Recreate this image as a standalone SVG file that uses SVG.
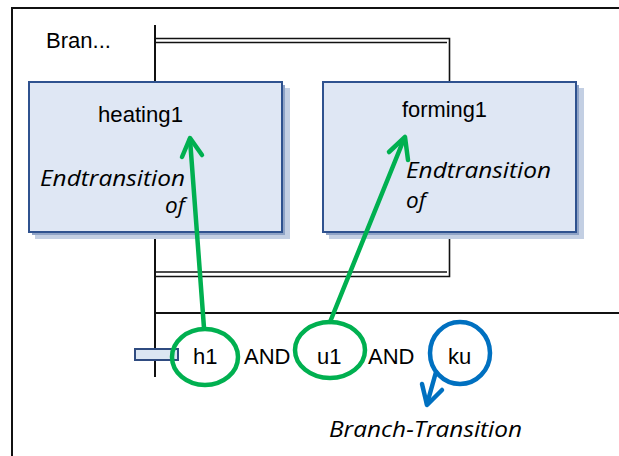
<svg xmlns="http://www.w3.org/2000/svg" width="619" height="456" viewBox="0 0 619 456">
<style>
.ln{stroke:#111;stroke-width:2;fill:none}
.ln2{stroke:#111;stroke-width:1.6;fill:none}
.box{fill:#dfe7f4;stroke:#2f528f;stroke-width:2}
.sh1{fill:#8fa3c6}
.sh2{fill:#c3cfe3}
.t{font-family:"Liberation Sans",Arial,sans-serif;fill:#000;font-size:22px}
.it{font-family:"Open Sans","Liberation Sans",sans-serif;font-style:italic;fill:#000;font-size:22.5px}
.g{stroke:#00b050;stroke-width:4.5;fill:none;stroke-linecap:round;stroke-linejoin:round}
.b{stroke:#0070c0;stroke-width:4.5;fill:none;stroke-linecap:round;stroke-linejoin:round}
</style>
<rect width="619" height="456" fill="#fff"/>
<g id="frame">
<path class="ln" d="M12,456 V8 H619"/>
<text class="t" x="46" y="48" textLength="65" lengthAdjust="spacingAndGlyphs">Bran...</text>
</g>
<g id="connectors">
<path class="ln" d="M155,25 V377"/>
<path class="ln2" d="M155,38.5 H449.5 V82"/>
<path class="ln2" d="M155,42.5 H447"/>
<path class="ln2" d="M449.5,231 V276.5 H155"/>
<path class="ln2" d="M155,272 H447"/>
<path class="ln" d="M155,313 H619"/>
</g>
<g id="heating1">
<rect class="sh2" x="35" y="88" width="255" height="151"/>
<rect class="sh1" x="32" y="85" width="253" height="150"/>
<rect class="box" x="29" y="82" width="253" height="150"/>
<text class="t" x="98" y="122" textLength="85" lengthAdjust="spacingAndGlyphs">heating1</text>
<text class="it" x="40" y="186" textLength="145" lengthAdjust="spacingAndGlyphs">Endtransition</text>
<text class="it" x="165" y="213">of</text>
</g>
<g id="forming1">
<rect class="sh2" x="329" y="88" width="255" height="151"/>
<rect class="sh1" x="326" y="85" width="253" height="150"/>
<rect class="box" x="323" y="82" width="253" height="150"/>
<text class="t" x="402" y="117" textLength="85" lengthAdjust="spacingAndGlyphs">forming1</text>
<text class="it" x="406" y="178" textLength="145" lengthAdjust="spacingAndGlyphs">Endtransition</text>
<text class="it" x="406" y="208">of</text>
</g>
<g id="transition">
<rect x="135" y="349" width="43" height="11" fill="#dce6f2" stroke="#2f4b80" stroke-width="2"/>
</g>
<g id="arrows">
<path class="g" d="M204,328 L190,139"/>
<path class="g" d="M182,157 L190,138 L202,155"/>
<path class="g" d="M330,322 L404,139"/>
<path class="g" d="M389,152 L405,137 L408,160"/>
<path class="b" d="M436,372 L427,404"/>
<path class="b" d="M422,384 L427,405 L442,390"/>
</g>
<g id="h1">
<ellipse cx="205" cy="357" rx="33" ry="28" class="g"/>
<text class="t" x="193" y="364">h1</text>
</g>
<text class="t" x="244" y="364">AND</text>
<g id="u1">
<ellipse cx="330" cy="350" rx="35" ry="28" class="g"/>
<text class="t" x="317" y="364">u1</text>
</g>
<text class="t" x="368" y="364">AND</text>
<g id="ku">
<ellipse cx="460" cy="353" rx="30" ry="31" class="b"/>
<text class="t" x="448" y="364">ku</text>
</g>
<text class="it" x="329" y="437" textLength="193" lengthAdjust="spacingAndGlyphs">Branch-Transition</text>
</svg>
